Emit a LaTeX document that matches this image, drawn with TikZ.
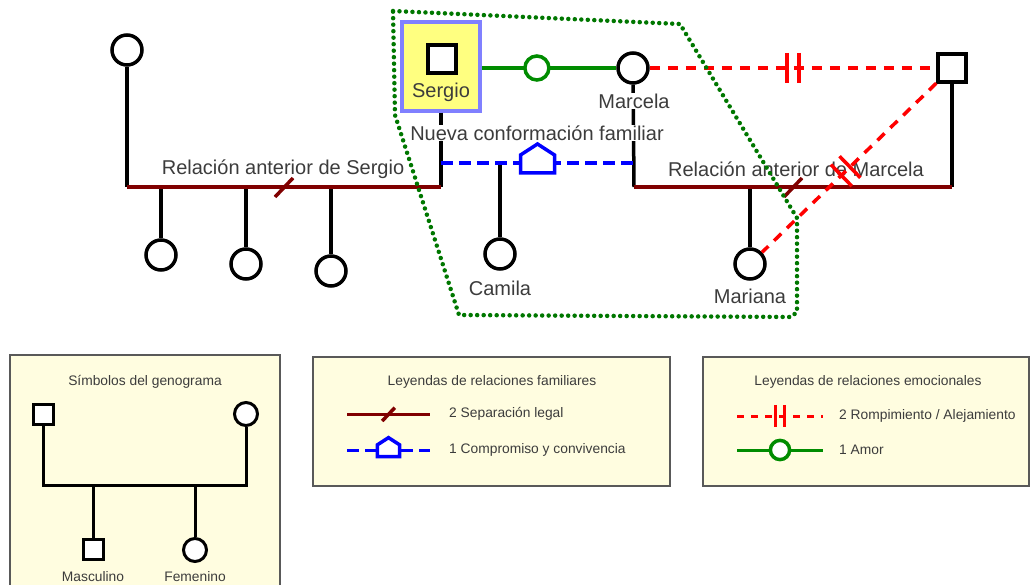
\documentclass[tikz,border=0pt]{standalone}
\usepackage{fontspec}
\setmainfont{Liberation Sans}
\usetikzlibrary{positioning}
\definecolor{vino}{RGB}{128,0,0}
\definecolor{verde}{RGB}{0,140,0}
\definecolor{azul}{RGB}{0,0,255}
\definecolor{rojo}{RGB}{255,0,0}
\definecolor{amarillo}{RGB}{255,255,128}
\definecolor{lila}{RGB}{128,128,255}
\definecolor{crema}{RGB}{255,253,224}
\definecolor{texto}{RGB}{60,60,60}
\tikzset{
  mujer/.style={circle,draw,fill=white,line width=3.5pt,minimum size=30pt,inner sep=0pt},
  hombre/.style={rectangle,draw,fill=white,line width=3.5pt,minimum size=28pt,inner sep=0pt},
  lazo/.style={line width=3.5pt},
  separacion/.style={vino,line width=3.5pt},
  convivencia/.style={azul,line width=3.5pt,dash pattern=on 12pt off 6pt},
  amor/.style={verde,line width=3.5pt},
  ruptura/.style={rojo,line width=3.5pt,dash pattern=on 10pt off 8pt},
  grupo/.style={verde!85!black,line width=4.5pt,dash pattern=on 0pt off 6.5pt,line cap=round},
  etiqueta/.style={text=texto,font=\fontsize{20}{22}\selectfont,inner sep=1pt},
  leyenda/.style={text=texto,font=\fontsize{13.8}{15}\selectfont,inner sep=1pt},
  marco/.style={draw=black!65,fill=crema,line width=1.5pt},
  pics/corte/.style={code={\draw[solid,vino,line width=3.5pt] (-9,10) -- (9,-9);}},
  pics/casa/.style={code={\draw[solid,azul,fill=white,line width=3.5pt] (-17,10) -- (-17,-8) -- (0,-19) -- (17,-8) -- (17,10) -- cycle;}},
  pics/cortado/.style={code={\draw[solid,rojo,line width=3.5pt] (-6,-15) -- (-6,15) (6,-15) -- (6,15);}},
  pics/amorcito/.style={code={\draw[solid,verde,fill=white,line width=3.5pt] (0,0) circle[radius=12pt];}}
}
\begin{document}
\begin{tikzpicture}[x=1pt,y=-1pt]
\useasboundingbox (0,0) rectangle (1031,585);
% familia anterior de Sergio
\node[mujer] (exS) at (127,50) {};
\coordinate (bS) at (127,187);
\coordinate (bSe) at (441,187);
\node[mujer] (hija1) at (161,255) {};
\node[mujer] (hija2) at (246,264) {};
\node[mujer] (hija3) at (331,271) {};
\node[draw=lila,fill=amarillo,line width=3.5pt,minimum width=78pt,minimum height=89pt,inner sep=0pt] (cajaS) at (441,66.5) {};
\node[hombre] (sergio) at (442,59) {};
\node[etiqueta] (nSergio) at (441,92) {Sergio};
% pareja actual y familia anterior de Marcela
\node[mujer] (marcela) at (633,68) {};
\node[hombre] (exM) at (952,68) {};
\coordinate (bM) at (634,187);
\coordinate (bMe) at (952,187);
\coordinate (cS) at (441,163);
\coordinate (cM) at (634,163);
\node[mujer] (camila) at (500,254) {};
\node[mujer] (mariana) at (750,264) {};
\draw[lazo] (exS) -- (bS);
\draw[lazo] (cajaS) -- (bSe);
\foreach \h in {hija1,hija2,hija3}
  \draw[lazo] (\h) -- (\h |- bS);
\draw[lazo] (marcela) -- (bM);
\draw[lazo] (exM) -- (bMe);
\draw[lazo] (mariana) -- (mariana |- bM);
\draw[lazo] (camila) -- (camila |- cS);
\draw[separacion] (bS) -- (bSe) pic[pos=.5]{corte};
\draw[separacion] (bM) -- (bMe) pic[pos=.5]{corte};
\draw[convivencia] (cS) -- (cM) pic[pos=.5]{casa};
\draw[amor] (cajaS.east |- marcela) -- (marcela) pic[pos=.41]{amorcito};
\node[etiqueta,fill=white] (nMarcela) at (634,101) {Marcela};
\node[etiqueta] (nCamila) at (500,288) {Camila};
\node[etiqueta] (nMariana) at (750,296) {Mariana};
\node[etiqueta,fill=white] (nNueva) at (537,133) {Nueva conformación familiar};
\node[etiqueta] (nRelS) at (283,169) {Relación anterior de Sergio};
\node[etiqueta] (nRelM) at (796,169) {Relación anterior de Marcela};
\draw[ruptura] (marcela) -- (exM) pic[pos=.5]{cortado};
\draw[ruptura] (exM) -- (mariana) pic[pos=.52,sloped]{cortado};
\draw[grupo] (393,11) -- (680,24) -- (797,218) -- (797,312) -- (791,317) -- (459,315) -- (395,115) -- cycle;
% simbolos
\draw[marco] (10,355) rectangle (280,600);
\node[leyenda] (tSimb) at (145,382) {Símbolos del genograma};
\node[hombre,minimum size=20pt,line width=3pt] (lPadre) at (43,414) {};
\node[mujer,minimum size=23pt,line width=3pt] (lMadre) at (246,414) {};
\coordinate (uI) at (43,485);
\coordinate (uD) at (246,485);
\node[hombre,minimum size=20pt,line width=3pt] (lHijo) at (93,549) {};
\node[mujer,minimum size=23pt,line width=3pt] (lHija) at (195,550) {};
\draw[lazo,line width=3pt] (lPadre) -- (uI) -- (uD) -- (lMadre);
\draw[lazo,line width=3pt] (lHijo) -- (lHijo |- uI);
\draw[lazo,line width=3pt] (lHija) -- (lHija |- uI);
\node[leyenda] (nMasc) at (93,577) {Masculino};
\node[leyenda] (nFem) at (195,577) {Femenino};
% relaciones familiares
\draw[marco] (313,357) rectangle (670,486);
\node[leyenda] (tFam) at (492,382) {Leyendas de relaciones familiares};
\coordinate (s1) at (347,414);
\coordinate (s2) at (430,414);
\coordinate (v1) at (347,450);
\coordinate (v2) at (430,450);
\draw[separacion,line width=3pt] (s1) -- (s2) pic[pos=.5,scale=.7]{corte};
\draw[convivencia,line width=3pt] (v1) -- (v2) pic[pos=.5,scale=.65]{casa};
\node[leyenda,anchor=west] (nSep) at (448,414) {2 Separación legal};
\node[leyenda,anchor=west] (nConv) at (448,450) {1 Compromiso y convivencia};
% relaciones emocionales
\draw[marco] (703,357) rectangle (1029,486);
\node[leyenda] (tEmo) at (868,382) {Leyendas de relaciones emocionales};
\coordinate (r1) at (737,416);
\coordinate (r2) at (823,416);
\coordinate (a1) at (737,450);
\coordinate (a2) at (823,450);
\draw[ruptura,line width=3pt,dash pattern=on 7pt off 7pt] (r1) -- (r2) pic[pos=.5,scale=.75]{cortado};
\draw[amor,line width=3pt] (a1) -- (a2) pic[pos=.5,scale=.8]{amorcito};
\node[leyenda,anchor=west] (nRomp) at (838,416) {2 Rompimiento / Alejamiento};
\node[leyenda,anchor=west] (nAmor) at (838,450) {1 Amor};
\end{tikzpicture}
\end{document}
